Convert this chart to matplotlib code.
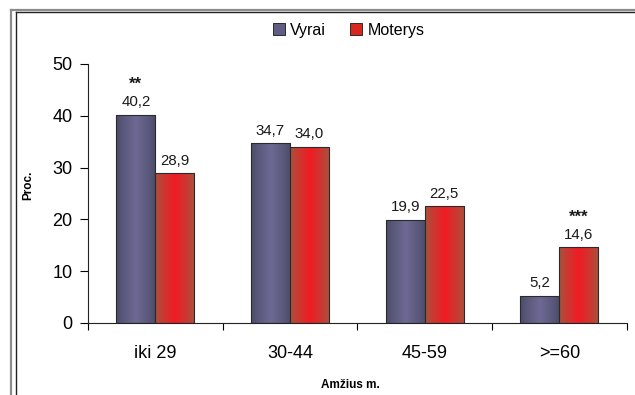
import numpy as np
import matplotlib
matplotlib.use('Agg')
import matplotlib.pyplot as plt
from matplotlib.colors import LinearSegmentedColormap
from matplotlib.lines import Line2D
from matplotlib.patches import Patch

plt.rcParams['font.family'] = ['Liberation Sans', 'DejaVu Sans']

categories = ['iki 29', '30-44', '45-59', '>=60']
vyrai = [40.2, 34.7, 19.9, 5.2]
moterys = [28.9, 34.0, 22.5, 14.6]
marks = {0: ('**', 'Vyrai'), 3: ('***', 'Moterys')}
series_names = ['Vyrai', 'Moterys']

fig = plt.figure(figsize=(6.35, 3.95), dpi=100)
ax = fig.add_axes([0.1386, 0.1823, 0.8484, 0.6557])

# horizontal gradients, dark at the edges and bright in the middle
cmaps = {
    'Vyrai': LinearSegmentedColormap.from_list('v', ['#4b4a68', '#6d6994']),
    'Moterys': LinearSegmentedColormap.from_list('m', ['#a4553f', '#f01c24']),
}
solid = {'Vyrai': '#5f5c86', 'Moterys': '#d8271f'}
prof = 1 - np.abs(np.linspace(-1, 1, 64))
prof = prof ** 0.8
grad = prof[np.newaxis, :]

x = np.arange(len(categories))
w = 0.29
tops = {}
for name, vals, off in [('Vyrai', vyrai, -w / 2), ('Moterys', moterys, w / 2)]:
    bars = ax.bar(x + off, vals, w, facecolor='none', edgecolor='#2a2a2a',
                  linewidth=0.8, zorder=3)
    for b, v in zip(bars, vals):
        x0 = b.get_x()
        im = ax.imshow(grad, cmap=cmaps[name], aspect='auto',
                       extent=(x0, x0 + w, 0, v), zorder=2, vmin=0, vmax=1)
        im.set_clip_path(b)
        ax.annotate(f'{v:.1f}'.replace('.', ','), (x0 + w / 2, v),
                    xytext=(0, 4), textcoords='offset points',
                    ha='center', va='bottom', fontsize=10.8, color='#1a1a1a')
    tops[name] = vals

for i, (txt, name) in marks.items():
    off = -w / 2 if name == 'Vyrai' else w / 2
    ax.annotate(txt, (x[i] + off, tops[name][i]), xytext=(0, 18.5),
                textcoords='offset points', ha='center', va='baseline',
                fontsize=12, fontweight='bold', color='#1a1a1a')

ax.set_xlim(-0.5, len(categories) - 0.5)
ax.set_ylim(0, 50)
ax.set_yticks(range(0, 51, 10))
ax.set_xticks(x)
ax.set_xticklabels(categories, fontsize=13)
ax.set_xticks(np.arange(-0.5, len(categories), 1), minor=True)
ax.tick_params(axis='y', labelsize=13, length=6, width=0.8, direction='out', pad=5)
ax.tick_params(axis='x', which='major', length=0, pad=16)
ax.tick_params(axis='x', which='minor', length=5, width=0.8, direction='out')
for s in ['top', 'right']:
    ax.spines[s].set_visible(False)
for s in ['left', 'bottom']:
    ax.spines[s].set_linewidth(0.8)
    ax.spines[s].set_color('#222222')

fig.text(28 / 635, 0.53, 'Proc.', fontsize=8.5, fontweight='bold',
         rotation=90, ha='center', va='center')
fig.text(0.551, 1 - 385 / 395, 'Amžius m.', fontsize=8.5, fontweight='bold',
         ha='center', va='center')

handles = [Patch(facecolor=solid[n], edgecolor='#2a2a2a', linewidth=0.7)
           for n in series_names]
fig.legend(handles, series_names, loc='center', bbox_to_anchor=(0.549, 0.923),
           ncol=2, frameon=False, fontsize=11.5, handlelength=0.75,
           handleheight=0.75, handletextpad=0.35, columnspacing=1.5)

# double border on the left and top edges
H, W = 395.0, 635.0
fig.add_artist(Line2D([11 / W, 11 / W], [0, 1 - 10 / H], color='#8c8c8c', lw=1.6))
fig.add_artist(Line2D([11 / W, 1], [1 - 10 / H, 1 - 10 / H], color='#8c8c8c', lw=1.6))
fig.add_artist(Line2D([16 / W, 16 / W], [0, 1 - 12 / H], color='#222222', lw=1.0))
fig.add_artist(Line2D([16 / W, 1], [1 - 12 / H, 1 - 12 / H], color='#222222', lw=1.0))

fig.savefig('out.png', dpi=100)
